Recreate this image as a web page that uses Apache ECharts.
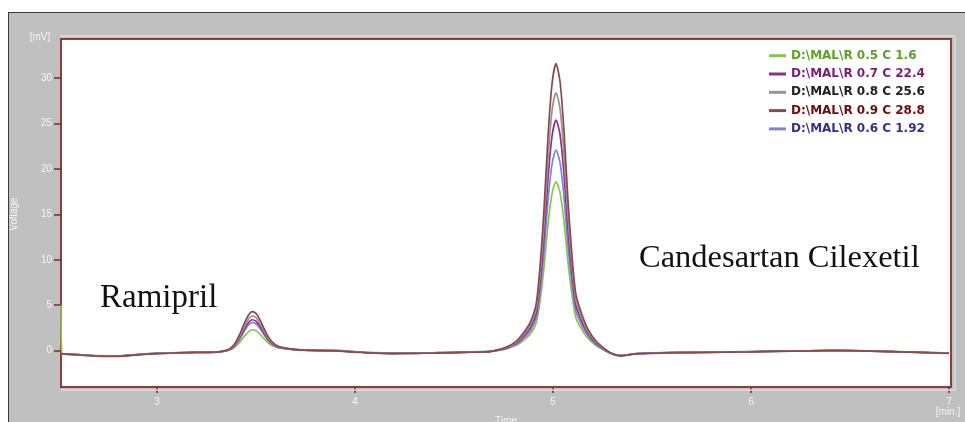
<!DOCTYPE html>
<html>
<head>
<meta charset="utf-8">
<script src="https://cdn.jsdelivr.net/npm/echarts@6/dist/echarts.min.js"></script>
<style>
html,body{margin:0;padding:0;background:#fff;}
#chart{width:965px;height:422px;}
</style>
</head>
<body>
<div id="chart"></div>
<script>
// ---- data (time in min, signal in mV) ----
var times = [2.515, 2.52, 2.6, 2.7, 2.8, 2.9, 3.0, 3.1, 3.2, 3.3,
  3.33, 3.36, 3.39, 3.42, 3.44, 3.46, 3.48, 3.50, 3.52, 3.54, 3.56, 3.58, 3.61, 3.65, 3.70,
  3.8, 3.9, 4.0, 4.1, 4.2, 4.3, 4.4, 4.5, 4.6, 4.68,
  4.715, 4.765, 4.815, 4.85, 4.885, 4.915, 4.935, 4.955, 4.975, 4.995, 5.015, 5.035, 5.055, 5.075, 5.095, 5.115, 5.145, 5.175, 5.215, 5.265, 5.305, 5.345, 5.415,
  5.5, 5.6, 5.7, 5.8, 5.9, 6.0, 6.1, 6.2, 6.3, 6.4, 6.5, 6.6, 6.7, 6.8, 6.9, 7.0];

var seriesNames = ['D:\\MAL\\R 0.5 C 1.6', 'D:\\MAL\\R 0.7 C 22.4', 'D:\\MAL\\R 0.8 C 25.6', 'D:\\MAL\\R 0.9 C 28.8', 'D:\\MAL\\R 0.6 C 1.92'];

var green = [5.0, -0.3, -0.42, -0.55, -0.56, -0.42, -0.28, -0.22, -0.17, -0.14,
  -0.10, 0.01, 0.32, 0.99, 1.57, 2.05, 2.30, 2.20, 1.82, 1.32, 0.88, 0.57, 0.31, 0.19, 0.12,
  0.08, 0.05, -0.1, -0.22, -0.27, -0.25, -0.22, -0.17, -0.12, -0.08,
  -0.01, 0.20, 0.59, 1.12, 1.82, 3.04, 5.55, 9.28, 13.93, 17.28, 18.58, 17.46, 14.29, 9.82, 6.27, 3.66, 2.34, 1.39, 0.59, -0.03, -0.38, -0.52, -0.33,
  -0.25, -0.2, -0.18, -0.15, -0.12, -0.1, -0.06, -0.02, 0.0, 0.03, 0.02, -0.03, -0.08, -0.14, -0.2, -0.26];

var purple = [-0.36, -0.37, -0.46, -0.6, -0.59, -0.44, -0.31, -0.26, -0.2, -0.17,
  -0.08, 0.08, 0.52, 1.50, 2.34, 3.04, 3.40, 3.25, 2.68, 1.94, 1.27, 0.81, 0.42, 0.24, 0.11,
  0.01, -0.01, -0.15, -0.26, -0.31, -0.29, -0.26, -0.21, -0.15, -0.1,
  0.03, 0.30, 0.83, 1.55, 2.50, 4.16, 7.59, 12.68, 19.03, 23.60, 25.38, 23.86, 19.53, 13.42, 8.59, 5.02, 3.22, 1.93, 0.87, 0.05, -0.41, -0.55, -0.34,
  -0.27, -0.22, -0.2, -0.17, -0.14, -0.12, -0.07, -0.04, -0.01, 0.02, 0.01, -0.04, -0.1, -0.16, -0.22, -0.27];

var gray = [-0.34, -0.35, -0.44, -0.58, -0.6, -0.45, -0.3, -0.24, -0.19, -0.16,
  -0.07, 0.10, 0.59, 1.68, 2.62, 3.40, 3.80, 3.63, 2.99, 2.16, 1.42, 0.90, 0.46, 0.25, 0.12,
  0.03, 0.0, -0.14, -0.25, -0.3, -0.28, -0.25, -0.2, -0.15, -0.1,
  0.04, 0.35, 0.93, 1.74, 2.80, 4.66, 8.49, 14.18, 21.28, 26.39, 28.38, 26.68, 21.84, 15.01, 9.61, 5.62, 3.61, 2.17, 0.99, 0.09, -0.40, -0.55, -0.35,
  -0.28, -0.22, -0.2, -0.18, -0.15, -0.12, -0.08, -0.05, -0.02, 0.01, 0.0, -0.05, -0.1, -0.15, -0.22, -0.28];

var brown = [-0.35, -0.36, -0.45, -0.6, -0.62, -0.47, -0.32, -0.25, -0.2, -0.17,
  -0.06, 0.13, 0.68, 1.91, 2.97, 3.85, 4.30, 4.10, 3.38, 2.44, 1.60, 1.01, 0.51, 0.27, 0.12,
  0.02, -0.02, -0.16, -0.27, -0.32, -0.3, -0.27, -0.21, -0.16, -0.1,
  0.06, 0.39, 1.05, 1.94, 3.12, 5.18, 9.45, 15.78, 23.68, 29.37, 31.58, 29.68, 24.30, 16.71, 10.69, 6.26, 4.03, 2.43, 1.11, 0.13, -0.40, -0.57, -0.36,
  -0.3, -0.23, -0.21, -0.19, -0.16, -0.13, -0.09, -0.06, -0.03, 0.0, -0.01, -0.06, -0.11, -0.17, -0.23, -0.3];

var blue = [-0.33, -0.34, -0.43, -0.57, -0.58, -0.44, -0.29, -0.23, -0.19, -0.16,
  -0.09, 0.06, 0.46, 1.36, 2.13, 2.77, 3.10, 2.96, 2.44, 1.77, 1.17, 0.75, 0.39, 0.23, 0.11,
  0.02, 0.0, -0.13, -0.24, -0.29, -0.27, -0.24, -0.19, -0.14, -0.09,
  0.01, 0.25, 0.71, 1.34, 2.17, 3.62, 6.60, 11.03, 16.56, 20.53, 22.08, 20.75, 16.99, 11.67, 7.46, 4.36, 2.79, 1.67, 0.73, 0.02, -0.39, -0.54, -0.35,
  -0.27, -0.21, -0.19, -0.17, -0.14, -0.11, -0.08, -0.04, -0.02, 0.01, 0.0, -0.04, -0.09, -0.15, -0.21, -0.27];

var xTicks = [3, 4, 5, 6, 7];
var yTicks = [0, 5, 10, 15, 20, 25, 30];

var lineColors = ['#86c650', '#8e2f8e', '#9d9292', '#8a4a4a', '#7f83d8'];
var textColors = ['#5aa324', '#7a1c7a', '#222222', '#6e0c0c', '#30308f'];
var valueSets = [green, purple, gray, brown, blue];

function zip(vals) {
  return times.map(function (t, i) { return [t, vals[i]]; });
}

// drawing order: brown on top
var drawOrder = [0, 4, 1, 2, 3];
var series = drawOrder.map(function (k) {
  return {
    name: seriesNames[k],
    type: 'line',
    data: zip(valueSets[k]),
    showSymbol: false,
    symbol: 'none',
    smooth: 0.25,
    lineStyle: { color: lineColors[k], width: 1.7 },
    itemStyle: { color: lineColors[k] },
    z: 2 + drawOrder.indexOf(k),
    animation: false
  };
});

var chart = echarts.init(document.getElementById('chart'), null, { renderer: 'canvas' });
var axisFont = 'Liberation Sans, Arial, sans-serif';
chart.setOption({
  backgroundColor: '#c0c0c0',
  animation: false,
  grid: {
    left: 61, top: 39, right: 14, bottom: 35,
    show: true,
    backgroundColor: '#ffffff',
    borderColor: '#933a3a',
    borderWidth: 2
  },
  legend: {
    orient: 'vertical',
    left: 769, top: 49.7,
    padding: 0,
    itemWidth: 17, itemHeight: 10, itemGap: 6.3,
    icon: 'path://M0,0 L17,0 L17,3 L0,3 Z',
    data: seriesNames.map(function (n, i) {
      return {
        name: n,
        itemStyle: { color: lineColors[i] },
        textStyle: { color: textColors[i], fontWeight: 'bold', fontSize: 12, fontFamily: 'DejaVu Sans, sans-serif' }
      };
    }),
    selectedMode: false
  },
  xAxis: {
    type: 'value',
    min: 2.515, max: 7.01,
    axisLine: { show: false, onZero: false },
    splitLine: { show: false },
    axisTick: { show: true, length: 6, lineStyle: { color: '#7a2a2a', width: 1.5 }, customValues: xTicks },
    axisLabel: { color: '#f4f4f4', fontSize: 10, fontFamily: axisFont, margin: 10, customValues: xTicks }
  },
  yAxis: {
    type: 'value',
    min: -4, max: 34.3,
    axisLine: { show: false, onZero: false },
    splitLine: { show: false },
    axisTick: { show: true, length: 7, lineStyle: { color: '#7a2a2a', width: 1.5 }, customValues: yTicks },
    axisLabel: { color: '#f4f4f4', fontSize: 10, fontFamily: axisFont, margin: 9, customValues: yTicks }
  },
  graphic: [
    { type: 'rect', shape: { x: 0, y: 0, width: 965, height: 12 }, style: { fill: '#ffffff' }, z: 1, silent: true },
    { type: 'rect', shape: { x: 0, y: 0, width: 8, height: 422 }, style: { fill: '#ffffff' }, z: 1, silent: true },
    { type: 'line', shape: { x1: 8, y1: 12.5, x2: 965, y2: 12.5 }, style: { stroke: '#3a3a3a', lineWidth: 1 }, z: 1, silent: true },
    { type: 'line', shape: { x1: 8.5, y1: 12, x2: 8.5, y2: 422 }, style: { stroke: '#3a3a3a', lineWidth: 1 }, z: 1, silent: true },
    { type: 'line', shape: { x1: 60, y1: 36, x2: 955, y2: 36 }, style: { stroke: '#d6e2e2', lineWidth: 1.5 }, z: 1, silent: true },
    { type: 'line', shape: { x1: 955, y1: 36, x2: 955, y2: 390 }, style: { stroke: '#d6e2e2', lineWidth: 1.5 }, z: 1, silent: true },
    { type: 'line', shape: { x1: 61, y1: 390, x2: 955, y2: 390 }, style: { stroke: '#dcdcdc', lineWidth: 1.5 }, z: 1, silent: true },
    { type: 'text', x: 40, y: 37, style: { text: '[mV]', fill: '#f4f4f4', font: '10px ' + axisFont, align: 'center', verticalAlign: 'middle' }, z: 50 },
    { type: 'text', x: 14, y: 214, rotation: Math.PI / 2, style: { text: 'Voltage', fill: '#f4f4f4', font: '10px ' + axisFont, align: 'center', verticalAlign: 'middle' }, z: 50 },
    { type: 'text', x: 948, y: 412, style: { text: '[min.]', fill: '#f4f4f4', font: '10px ' + axisFont, align: 'center', verticalAlign: 'middle' }, z: 50 },
    { type: 'text', x: 506, y: 416, style: { text: 'Time', fill: '#f4f4f4', font: '10px ' + axisFont, align: 'center', verticalAlign: 'top' }, z: 50 },
    { type: 'text', x: 100, y: 298, style: { text: 'Ramipril', fill: '#111111', font: '33px Liberation Serif, Times New Roman, serif', align: 'left', verticalAlign: 'middle' }, z: 50 },
    { type: 'text', x: 639, y: 258, style: { text: 'Candesartan Cilexetil', fill: '#111111', font: '32.5px Liberation Serif, Times New Roman, serif', align: 'left', verticalAlign: 'middle' }, z: 50 }
  ],
  series: series
});
</script>
</body>
</html>
